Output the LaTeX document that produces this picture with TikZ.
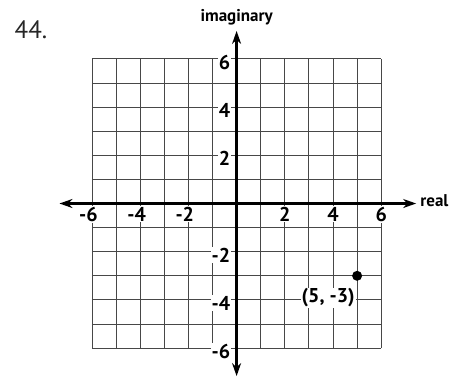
\documentclass[tikz,border=0pt]{standalone}
\usepackage{fontspec}
\setmainfont{PT Sans}
\usetikzlibrary{arrows.meta}
\begin{document}
\begin{tikzpicture}[x=24.1pt,y=24.1pt,
  gridline/.style={draw=black!72, line width=0.9pt},
  axisline/.style={line width=2.2pt, {Stealth[length=13pt,width=9pt]}-{Stealth[length=13pt,width=9pt]}},
  lbl/.style={fill=white, inner sep=1pt, font=\fontsize{20}{24}\selectfont\bfseries},
  axname/.style={inner sep=0pt, font=\fontsize{17}{20}\selectfont\bfseries},
  dot/.style={circle, fill=black, inner sep=0pt, minimum size=10pt},
 ]
\useasboundingbox (-9.817,-7.199) rectangle (8.979,8.444);
\draw[gridline, step=1] (-6,-6) grid (6,6);
% x labels
\foreach \v/\t/\n in {-6/\llap{-}6/xa,-4/\llap{-}4/xb,-2/\llap{-}2/xc,2/2/xd,4/4/xe,6/6/xf}
  \node[lbl, anchor=north] (\n) at (\v,-0.1) {\t};
% y labels
\foreach \v/\t/\n in {6/6/ya,4/4/yb,2/2/yc,-2/-2/yd,-4/-4/ye,-6/-6/yf}
  \node[lbl, anchor=east] (\n) at (-0.22,\v-0.14) {\t};
% axes
\coordinate (xl) at (-7.35,0);
\coordinate (xr) at (7.45,0);
\coordinate (yt) at (0,7.16);
\coordinate (yb) at (0,-7.16);
\draw[axisline] (xl) -- (xr);
\draw[axisline] (yb) -- (yt);
\node[axname, anchor=west] (real) at (7.62,0.12) {real};
\node[axname] (imag) at (0,7.72) {imaginary};
\node[font=\fontsize{25}{30}\selectfont, text=black!85, inner sep=0pt] (num) at (-8.53,7.2) {44.};
% point
\node[dot] (p) at (5,-3) {};
\node[lbl] (plabel) at (3.8,-3.92) {(5, -3)};
\end{tikzpicture}
\end{document}
